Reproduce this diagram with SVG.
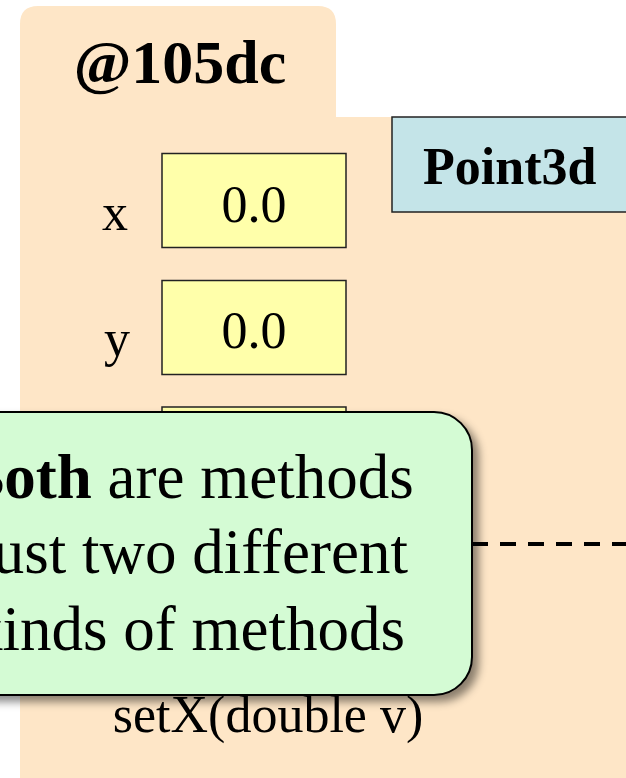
<svg xmlns="http://www.w3.org/2000/svg" width="626" height="778" viewBox="0 0 626 778">
<defs>
<filter id="sh" x="-20%" y="-20%" width="140%" height="140%">
<feDropShadow dx="6" dy="6" stdDeviation="4" flood-color="#000" flood-opacity="0.45"/>
</filter>
<style>
text{font-family:"Liberation Serif","Times New Roman",serif;fill:#000}
.b{font-weight:bold}
.field{fill:#ffffaa;stroke:#222;stroke-width:1.5}
.lbl{font-size:52px}
.call{font-size:63px}
</style>
</defs>
<rect width="626" height="778" fill="#fff"/>
<g id="object">
<path d="M20,778 V24 Q20,6 38,6 H318 Q336,6 336,24 V117 H626 V778 Z" fill="#fee6c7"/>
<text class="b" x="180" y="83" font-size="62" text-anchor="middle">@105dc</text>
</g>
<g id="class">
<rect x="392" y="117" width="250" height="95" fill="#c4e4e8" stroke="#222" stroke-width="1.5"/>
<text class="b" x="423" y="184" font-size="52">Point3d</text>
</g>
<g id="field-x">
<text class="lbl" x="115" y="230" text-anchor="middle">x</text>
<rect class="field" x="162" y="153.5" width="184" height="94"/>
<text class="lbl" x="254" y="222" text-anchor="middle">0.0</text>
</g>
<g id="field-y">
<text class="lbl" x="117" y="356" text-anchor="middle">y</text>
<rect class="field" x="162" y="280.5" width="184" height="94"/>
<text class="lbl" x="254" y="348" text-anchor="middle">0.0</text>
</g>
<g id="field-z">
<rect class="field" x="162" y="407" width="184" height="94"/>
</g>
<g id="method">
<text class="lbl" x="268" y="732" text-anchor="middle">setX(double v)</text>
</g>
<g id="connectors">
<line x1="472" y1="544" x2="626" y2="544" stroke="#000" stroke-width="4" stroke-dasharray="16 12"/>
</g>
<g id="callout">
<rect x="-100" y="412" width="572" height="283" rx="38" fill="#d4fbd4" stroke="#000" stroke-width="2" filter="url(#sh)"/>
<text class="call" x="188" y="498" text-anchor="middle"><tspan class="b">Both</tspan> are methods</text>
<text class="call" x="188" y="573" text-anchor="middle">Just two different</text>
<text class="call" x="188" y="650" text-anchor="middle">kinds of methods</text>
</g>
</svg>
